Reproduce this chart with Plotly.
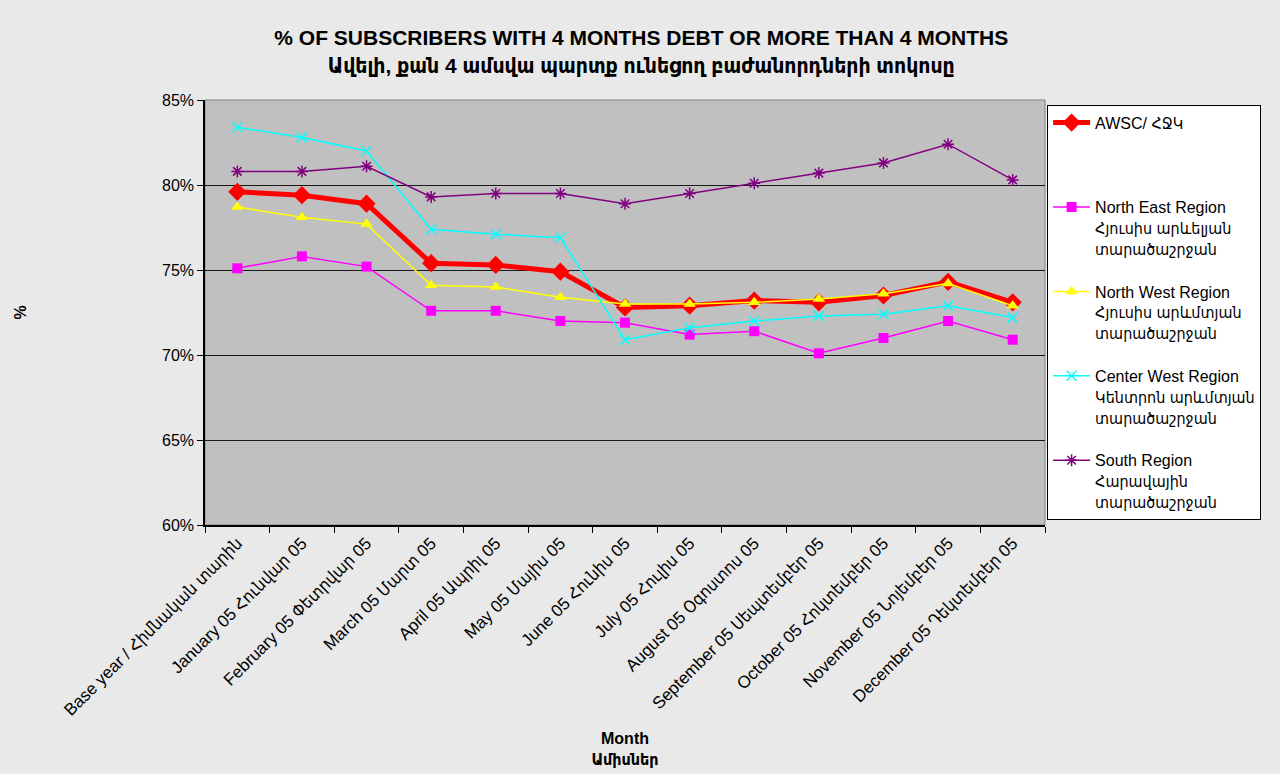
import plotly.graph_objects as go

categories = [
    "Base year / Հիմնական տարին",
    "January 05 Հունվար 05",
    "February 05 Փետրվար 05",
    "March 05 Մարտ 05",
    "April 05 Ապրիլ 05",
    "May 05 Մայիս 05",
    "June 05 Հունիս 05",
    "July 05 Հուլիս 05",
    "August 05 Օգոստոս 05",
    "September 05 Սեպտեմբեր 05",
    "October 05 Հոկտեմբեր 05",
    "November 05 Նոյեմբեր 05",
    "December 05 Դեկտեմբեր 05",
]

awsc = [79.6, 79.4, 78.9, 75.4, 75.3, 74.9, 72.8, 72.9, 73.2, 73.1, 73.5, 74.3, 73.1]
north_east = [75.1, 75.8, 75.2, 72.6, 72.6, 72.0, 71.9, 71.2, 71.4, 70.1, 71.0, 72.0, 70.9]
north_west = [78.7, 78.1, 77.7, 74.1, 74.0, 73.4, 73.0, 73.0, 73.1, 73.3, 73.6, 74.2, 72.9]
center_west = [83.4, 82.8, 82.0, 77.4, 77.1, 76.9, 70.9, 71.6, 72.0, 72.3, 72.4, 72.9, 72.2]
south = [80.8, 80.8, 81.1, 79.3, 79.5, 79.5, 78.9, 79.5, 80.1, 80.7, 81.3, 82.4, 80.3]

y_ticks = [60, 65, 70, 75, 80, 85]

FONT = "Arial, 'Liberation Sans', 'DejaVu Sans Condensed', 'DejaVu Sans', sans-serif"

fig = go.Figure()

series = [
    ("AWSC/ ՀՋԿ<br> <br> ", awsc, "#FF0000", 5, dict(symbol="diamond", size=14, color="#FF0000")),
    ("North East Region<br>Հյուսիս արևելյան<br>տարածաշրջան", north_east, "#FF00FF", 1.5,
     dict(symbol="square", size=10, color="#FF00FF")),
    ("North West Region<br>Հյուսիս արևմտյան<br>տարածաշրջան", north_west, "#FFFF00", 1.5,
     dict(symbol="triangle-up", size=11, color="#FFFF00")),
    ("Center West Region<br>Կենտրոն արևմտյան<br>տարածաշրջան", center_west, "#00FFFF", 1.5,
     dict(symbol="x-thin-open", size=10, color="#00FFFF", line=dict(color="#00FFFF", width=1.5))),
    ("South Region<br>Հարավային<br>տարածաշրջան", south, "#800080", 1.5,
     dict(symbol="asterisk-open", size=10, color="#800080", line=dict(color="#800080", width=1.5))),
]

for i, (name, vals, color, w, marker) in enumerate(series):
    fig.add_trace(go.Scatter(
        x=categories, y=vals, mode="lines+markers", name=name,
        line=dict(color=color, width=w), marker=marker,
        legendgroup=f"g{i}",
    ))

fig.update_layout(
    width=1280, height=774,
    paper_bgcolor="#e9e9e9",
    plot_bgcolor="#C0C0C0",
    font=dict(family=FONT, color="black", size=16),
    margin=dict(l=205, r=235, t=100, b=249, autoexpand=False),
    title=dict(
        text="<b>% OF SUBSCRIBERS WITH 4 MONTHS DEBT OR MORE THAN 4 MONTHS<br>Ավելի, քան 4 ամսվա պարտք ունեցող բաժանորդների տոկոսը</b>",
        x=0.501, xref="container", xanchor="center", y=0.9415, yanchor="middle",
        font=dict(size=21, family=FONT),
    ),
    showlegend=True,
    legend=dict(
        x=1.0025, xanchor="left", y=0.989, yanchor="top",
        bgcolor="white", bordercolor="black", borderwidth=1,
        font=dict(size=16, family=FONT),
        valign="top", tracegroupgap=19, traceorder="grouped",
        itemwidth=37,
    ),
    xaxis=dict(
        type="category", tickangle=-45, tickson="boundaries",
        ticks="outside", ticklen=6, tickcolor="black",
        showline=True, linecolor="black", linewidth=1.5,
        showgrid=False, tickfont=dict(size=17),
        title=dict(text="<b>Month<br>Ամիսներ</b>", font=dict(size=16), standoff=14),
        range=[-0.5, 12.5],
    ),
    yaxis=dict(
        range=[60, 85], tickvals=y_ticks, ticktext=[f"{v}%" for v in y_ticks],
        ticks="outside", ticklen=6, tickcolor="black",
        showline=True, linecolor="black", linewidth=1.5,
        showgrid=True, gridcolor="#1a1a1a", gridwidth=1,
        tickfont=dict(size=16),
        title=dict(text="<b>%</b>", font=dict(size=16), standoff=131),
        zeroline=False,
    ),
    shapes=[dict(type="rect", xref="paper", yref="paper", x0=0, x1=1, y0=0, y1=1,
                 line=dict(color="#808080", width=1), layer="below")],
)

fig.update_xaxes(automargin=False)
fig.update_yaxes(automargin=False)

fig.write_html("out.html", config={"displayModeBar": False},
               post_script="document.body.style.margin='0';")
